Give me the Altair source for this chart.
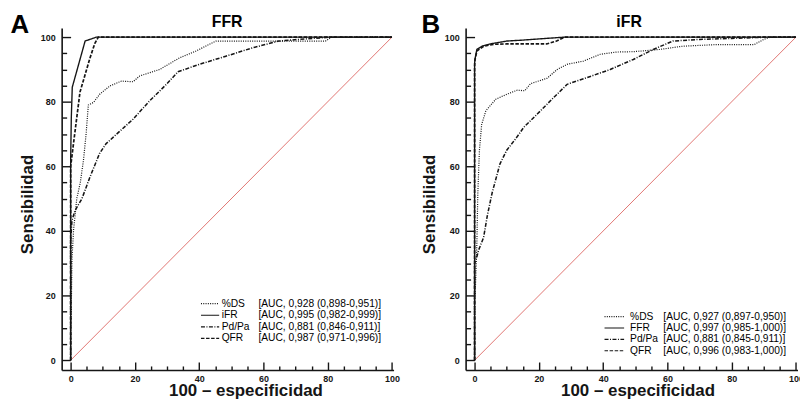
import altair as alt
import pandas as pd

# ---------------- data ----------------
# Panel A: reference FFR
A_DS_X = [0, 0, 0.15, 0.4, 0.9, 1.9, 3.0, 4.0, 4.8, 5.5, 7.1, 9.1, 12.2, 15.8, 19.4, 21.5, 27.7, 33.9, 39.0, 45.2, 60.0, 79.3, 81.2, 100]
A_DS_Y = [0, 10, 12.5, 31, 40.3, 50, 55, 62, 70, 79, 79.8, 82.4, 84.9, 86.4, 86.2, 88, 90, 93.6, 95.7, 98.8, 98.8, 98.8, 100, 100]
A_IFR_X = [0, 0, 0.2, 0.5, 4.5, 8.0, 100]
A_IFR_Y = [0, 62, 75, 84.5, 98.8, 100, 100]
A_PDPA_X = [0, 0, 0.4, 1.4, 3.5, 6.0, 9.0, 11.0, 13.2, 19.4, 24.6, 29.8, 33.4, 40.1, 48.3, 56.6, 64.8, 71.0, 81.0, 100]
A_PDPA_Y = [0, 37, 43.3, 46.4, 50, 56.7, 64, 67, 69, 74.6, 80.3, 85.4, 89.3, 91.6, 94.1, 96.7, 98.8, 99.3, 100, 100]
A_QFR_X = [0, 0, 1.0, 2.9, 6.0, 7.5, 8.6, 100]
A_QFR_Y = [0, 60, 68, 83, 93.5, 98, 100, 100]

# Panel B: reference iFR
B_DS_X = [0, 0, 0.2, 0.7, 1.0, 1.5, 2.2, 3.5, 6.6, 10.2, 13.3, 15.6, 17.4, 22.6, 25.7, 28.8, 33.9, 39.1, 44.2, 49.4, 57.6, 64.8, 75.2, 87.0, 90.0, 92.0, 100]
B_DS_Y = [0, 18, 21, 36, 51.6, 65, 73, 77.2, 80.8, 82.4, 83.6, 83.4, 85.6, 87.3, 90, 91.6, 92.6, 94.7, 95.4, 95.5, 96.2, 97.2, 97.7, 97.7, 99.3, 100, 100]
B_FFR_X = [0, 0, 0.2, 0.7, 2.3, 4.8, 10, 15.2, 22, 28, 100]
B_FFR_Y = [0, 92, 93.6, 96.2, 97.2, 97.9, 98.8, 99.1, 99.6, 100, 100]
B_PDPA_X = [0, 0, 0.7, 1.2, 2.8, 4.0, 5.5, 7.9, 10, 13.1, 15.3, 19.5, 24.6, 28.8, 35, 42.2, 49.4, 55.6, 61.7, 70, 80, 91, 100]
B_PDPA_Y = [0, 30, 32, 34, 38, 45, 52, 60.8, 65, 69, 72.1, 76.2, 81.3, 85.4, 87.5, 90, 93.1, 96.2, 98.8, 99.3, 99.6, 100, 100]
B_QFR_X = [0, 0, 0.1, 0.7, 2.8, 6, 10, 22.4, 25.5, 28, 100]
B_QFR_Y = [0, 91, 93, 95.7, 97.2, 97.8, 97.9, 97.9, 98.8, 100, 100]

DIAG = [0, 100]

A_NAMES = ["%DS", "iFR", "Pd/Pa", "QFR"]
A_AUCS = ["[AUC,  0,928 (0,898-0,951)]", "[AUC, 0,995 (0,982-0,999)]",
          "[AUC, 0,881 (0,846-0,911)]", "[AUC, 0,987 (0,971-0,996)]"]
B_NAMES = ["%DS", "FFR", "Pd/Pa", "QFR"]
B_AUCS = ["[AUC,  0,927 (0,897-0,950)]", "[AUC, 0,997 (0,985-1,000)]",
          "[AUC, 0,881 (0,845-0,911)]", "[AUC, 0,996 (0,983-1,000)]"]
STYLES = ["dot", "solid", "dashdot", "dash"]

MAJOR = [0, 20, 40, 60, 80, 100]
MINOR = [5, 10, 15, 25, 30, 35, 45, 50, 55, 65, 70, 75, 85, 90, 95]

# ---------------- styling ----------------
FONT = "Liberation Sans"
INK = "#151515"
RED = "#d9534f"
X_DOMAIN = [-2.8, 100.5]
Y_DOMAIN = [-3.0, 102.8]
W, H = 334, 344

DASH_SCALE = alt.Scale(domain=STYLES, range=[[1, 1.3], [1, 0], [4, 1.5, 1, 1.5], [3.5, 1.6]])
WIDTH_SCALE = alt.Scale(domain=STYLES, range=[1.2, 1.7, 1.3, 1.4])


def curves_df(series):
    rows = []
    for name, sty, xs, ys in series:
        for i, (x, y) in enumerate(zip(xs, ys)):
            rows.append({"series": name, "sty": sty, "x": x, "y": y, "i": i})
    return pd.DataFrame(rows)


def tick_axis(orient, values, size):
    return alt.Axis(orient=orient, values=values, ticks=True, tickSize=size, offset=-size,
                    tickColor=INK, tickWidth=1.4, labels=False, domain=False, grid=False, title=None)


def panel(curves, names, aucs, letter, title, lay):
    xs = alt.Scale(domain=X_DOMAIN, nice=False, zero=False)
    ys = alt.Scale(domain=Y_DOMAIN, nice=False, zero=False)
    diag = pd.DataFrame({"x": DIAG, "y": DIAG})

    x_main = alt.Axis(orient="bottom", values=MAJOR, ticks=False, domain=True, domainColor=INK,
                      domainWidth=1.6, grid=False, labelFont=FONT, labelFontSize=9,
                      labelFontWeight="bold", labelColor=INK, labelPadding=5, labelFlush=False,
                      labelOverlap=False, title="100 – especificidad", titleFont=FONT,
                      titleFontSize=17, titleFontWeight="bold", titleColor=INK,
                      titleX=lay["xtx"], titleY=26, titleBaseline="alphabetic", titleAlign="center")
    y_main = alt.Axis(orient="left", values=MAJOR, ticks=False, domain=True, domainColor=INK,
                      domainWidth=1.6, grid=False, labelFont=FONT, labelFontSize=9,
                      labelFontWeight="bold", labelColor=INK, labelPadding=6.5, labelFlush=False,
                      labelOverlap=False, title="Sensibilidad", titleFont=FONT, titleFontSize=17,
                      titleFontWeight="bold", titleColor=INK, titleX=lay["ytx"], titleY=177,
                      titleAngle=270, titleBaseline="alphabetic", titleAlign="center")

    diag_layer = alt.Chart(diag).mark_line(color=RED, strokeWidth=0.8).encode(
        x=alt.X("x:Q", scale=xs, axis=x_main),
        y=alt.Y("y:Q", scale=ys, axis=y_main),
    )
    curve_layer = alt.Chart(curves).mark_line(color=INK).encode(
        x=alt.X("x:Q", scale=xs, axis=tick_axis("bottom", MAJOR, 8)),
        y=alt.Y("y:Q", scale=ys, axis=tick_axis("left", MAJOR, 9)),
        strokeDash=alt.StrokeDash("sty:N", scale=DASH_SCALE, legend=None),
        strokeWidth=alt.StrokeWidth("sty:N", scale=WIDTH_SCALE, legend=None),
        detail="series:N",
        order="i:Q",
    )
    minor_layer = alt.Chart(diag).mark_line(strokeOpacity=0).encode(
        x=alt.X("x:Q", scale=xs, axis=tick_axis("bottom", MINOR, 4)),
        y=alt.Y("y:Q", scale=ys, axis=tick_axis("left", MINOR, 5)),
    )

    leg = pd.DataFrame({"row": [0, 1, 2, 3], "name": names, "auc": aucs, "sty": STYLES})
    row_scale = alt.Scale(type="point", domain=[0, 1, 2, 3], range=[lay["ly0"], lay["ly1"]], padding=0)
    leg_y = alt.Y("row:O", scale=row_scale, axis=None)
    leg_rule = alt.Chart(leg).mark_rule(color=INK, strokeWidth=1.2).encode(
        x=alt.value(lay["sx0"]), x2=alt.value(lay["sx1"]), y=leg_y,
        strokeDash=alt.StrokeDash("sty:N", scale=DASH_SCALE, legend=None),
    )
    leg_name = alt.Chart(leg).mark_text(align="left", baseline="middle", font=FONT, fontSize=10.3,
                                        color="black").encode(x=alt.value(lay["nx"]), y=leg_y, text="name:N")
    leg_auc = alt.Chart(leg).mark_text(align="left", baseline="middle", font=FONT, fontSize=10.3,
                                       color="black").encode(x=alt.value(lay["ax"]), y=leg_y, text="auc:N")

    head = pd.DataFrame({"letter": [letter], "title": [title]})
    letter_t = alt.Chart(head).mark_text(align="left", baseline="alphabetic", font=FONT, fontSize=26,
                                         fontWeight="bold", color="black").encode(
        x=alt.value(lay["lx"]), y=alt.value(4.5), text="letter:N")
    title_t = alt.Chart(head).mark_text(align="center", baseline="alphabetic", font=FONT, fontSize=16,
                                        fontWeight="bold", color="black").encode(
        x=alt.value(lay["tx"]), y=alt.value(-1), text="title:N")

    return alt.layer(diag_layer, curve_layer, minor_layer, leg_rule, leg_name, leg_auc,
                     letter_t, title_t).resolve_scale(x="independent", y="independent").properties(
        width=W, height=H)


curves_a = curves_df([("%DS", "dot", A_DS_X, A_DS_Y), ("iFR", "solid", A_IFR_X, A_IFR_Y),
                      ("Pd/Pa", "dashdot", A_PDPA_X, A_PDPA_Y), ("QFR", "dash", A_QFR_X, A_QFR_Y)])
curves_b = curves_df([("%DS", "dot", B_DS_X, B_DS_Y), ("FFR", "solid", B_FFR_X, B_FFR_Y),
                      ("Pd/Pa", "dashdot", B_PDPA_X, B_PDPA_Y), ("QFR", "dash", B_QFR_X, B_QFR_Y)])

lay_a = {"xtx": 185, "ytx": -29.7, "ly0": 277.3, "ly1": 312.3, "sx0": 140.2, "sx1": 158.5,
         "nx": 161, "ax": 198, "lx": -51.5, "tx": 166.5}
lay_b = {"xtx": 173, "ytx": -31.2, "ly0": 290.3, "ly1": 324.7, "sx0": 139.8, "sx1": 159.5,
         "nx": 165.5, "ax": 199, "lx": -44.5, "tx": 164.5}

chart = alt.hconcat(
    panel(curves_a, A_NAMES, A_AUCS, "A", "FFR", lay_a),
    panel(curves_b, B_NAMES, B_AUCS, "B", "iFR", lay_b),
    spacing=72.5, bounds="flush",
).properties(
    padding={"left": 2, "top": 2, "right": -4, "bottom": 0}, background="white"
).configure_view(stroke=None)

chart.save("out.html", embed_options={"renderer": "svg", "actions": False})
